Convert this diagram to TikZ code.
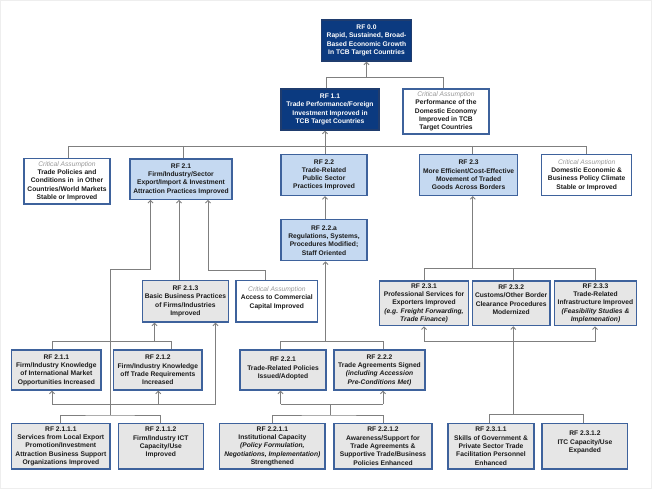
\documentclass[tikz,border=0pt]{standalone}
\usepackage{fontspec}
\setmainfont{Liberation Sans}
\usetikzlibrary{arrows.meta,calc}
\definecolor{navy}{HTML}{0B3A80}
\definecolor{navyb}{HTML}{1F3C6E}
\definecolor{lblue}{HTML}{C5D9F1}
\definecolor{bord}{HTML}{3E629C}
\definecolor{lgray}{HTML}{E6E6E6}
\definecolor{conc}{HTML}{7F7F7F}
\definecolor{txtc}{HTML}{1A1A1A}
\definecolor{cagray}{HTML}{999999}
\definecolor{framec}{HTML}{EEEEEE}
\newcommand\cacap{{\mdseries\itshape\color{cagray}Critical Assumption}}
% [text options], name, style, x1, y1, x2, y2, text, dy
\newcommand\bx[9][]{%
  \node[#3, minimum width={(#6-(#4))*1pt}, minimum height={(#7-(#5))*1pt}] (#2) at ({(#4+#6)/2},{(#5+#7)/2}) {};
  \node[txt,#1] (#2-t) at ($(#2.center)+(0,#9)$) {#8};
}
\begin{document}
\begin{tikzpicture}[x=1pt,y=-1pt,
  boxbase/.style={rectangle, draw=bord, line width=1.1pt, inner sep=0pt},
  navybox/.style={boxbase, fill=navy, draw=navyb},
  bluebox/.style={boxbase, fill=lblue},
  graybox/.style={boxbase, fill=lgray},
  cabox/.style={boxbase, fill=white},
  txt/.style={font=\fontsize{6.7}{8.3}\selectfont\bfseries, align=center, inner sep=0pt, text=txtc},
  wtxt/.style={text=white},
  conn/.style={draw=conc, line width=0.9pt},
  arr/.style={conn, -{Straight Barb[length=2.6pt,width=5pt]}}]
\useasboundingbox (0,0) rectangle (652,489);
\draw[framec, line width=0.6pt] (0.5,0.5) rectangle (651.5,488.5);

% ---------- boxes ----------
\bx[wtxt]{RF00}{navybox}{321.5}{20}{411.5}{61}{RF 0.0\\Rapid, Sustained, Broad-\\Based Economic Growth\\In TCB Target Countries}{0}
\bx[wtxt]{RF11}{navybox}{281}{89}{379}{130}{RF 1.1\\Trade Performance/Foreign\\Investment Improved in\\TCB Target Countries}{0}
\bx{CAperf}{cabox}{403}{89}{489}{134}{\cacap\\Performance of the\\Domestic Economy\\Improved in TCB\\Target Countries}{0}

\bx{CAtrade}{cabox}{24}{158.5}{110}{204}{\cacap\\Trade Policies and\\Conditions in\ \ in Other\\Countries/World Markets\\Stable or Improved}{0}
\bx{RF21}{bluebox}{130}{159}{232}{199.3}{RF 2.1\\Firm/Industry/Sector\\Export/Import \& Investment\\Attraction Practices Improved}{0}
\bx{RF22}{bluebox}{281}{154.3}{367}{195.5}{RF 2.2\\Trade-Related\\Public Sector\\Practices Improved}{0}
\bx{RF23}{bluebox}{419.5}{154.3}{517.7}{195.5}{RF 2.3\\More Efficient/Cost-Effective\\Movement of Traded\\Goods Across Borders}{0}
\bx{CAdom}{cabox}{541.8}{154.3}{631.6}{195.5}{\cacap\\Domestic Economic \&\\Business Policy Climate\\Stable or Improved}{0}

\bx{RF22a}{bluebox}{281}{219.7}{367}{260.8}{RF 2.2.a\\Regulations, Systems,\\Procedures Modified;\\Staff Oriented}{0}

\bx{RF213}{graybox}{142.3}{280.7}{228.5}{322}{RF 2.1.3\\Basic Business Practices\\of Firms/Industries\\Improved}{0}
\bx{CAacc}{cabox}{236}{280.7}{317.7}{322}{\cacap\\Access to Commercial\\Capital Improved}{-3.3}
\bx{RF231}{graybox}{379.3}{281}{468.7}{325.7}{RF 2.3.1\\Professional Services for\\Exporters Improved\\{\itshape(e.g. Freight Forwarding,}\\{\itshape Trade Finance)}}{0}
\bx{RF232}{graybox}{472.3}{281}{550}{325.7}{RF 2.3.2\\Customs/Other Border\\Clearance Procedures\\Modernized}{-3.7}
\bx{RF233}{graybox}{554.3}{281}{636.7}{325.7}{RF 2.3.3\\Trade-Related\\Infrastructure Improved\\{\itshape(Feasibility Studies \&}\\{\itshape Implemenation)}}{0}

\bx{RF211}{graybox}{11.7}{350}{101}{390}{RF 2.1.1\\Firm/Industry Knowledge\\of International Market\\Opportunities Increased}{0}
\bx{RF212}{graybox}{113.7}{350}{202}{390}{RF 2.1.2\\Firm/Industry Knowledge\\off Trade Requirements\\Increased}{0}
\bx{RF221}{graybox}{240}{350}{326}{390}{RF 2.2.1\\Trade-Related Policies\\Issued/Adopted}{-1.5}
\bx{RF222}{graybox}{334}{350}{425}{390}{RF 2.2.2\\Trade Agreements Signed\\{\itshape(including Accession}\\{\itshape Pre-Conditions Met)}}{0}

\bx{RF2111}{graybox}{11.7}{423.3}{110}{469}{RF 2.1.1.1\\Services from Local Export\\Promotion/Investment\\Attraction Business Support\\Organizations Improved}{0}
\bx{RF2112}{graybox}{118.3}{423.3}{203.3}{469}{RF 2.1.1.2\\Firm/Industry ICT\\Capacity/Use\\Improved}{-3.5}
\bx{RF2211}{graybox}{219.7}{423.3}{325}{469}{RF 2.2.1.1\\Institutional Capacity\\{\itshape(Policy Formulation,}\\{\itshape Negotiations, Implementation)}\\Strengthened}{0}
\bx{RF2212}{graybox}{334}{423.3}{432}{469}{RF 2.2.1.2\\Awareness/Support for\\Trade Agreements \&\\Supportive Trade/Business\\Policies Enhanced}{0}
\bx{RF2311}{graybox}{448}{423.3}{534}{469}{RF 2.3.1.1\\Skills of Government \&\\Private Sector Trade\\Facilitation Personnel\\Enhanced}{0}
\bx{RF2312}{graybox}{542}{423.3}{627.8}{469}{RF 2.3.1.2\\ITC Capacity/Use\\Expanded}{-3.5}

% ---------- connectors ----------
% to RF 0.0
\coordinate (j0) at (366.5,77.3);
\draw[arr] (j0) -- (RF00.south);
\draw[conn] (RF11.north -| 326,0) |- (443.3,77.3) -- (CAperf.north -| 443.3,0);
% level 2 bus
\draw[conn] (CAtrade.north -| 68.6,0) |- (586.7,146) -- (CAdom.north -| 586.7,0);
\draw[conn] (183,146) -- (RF21.north -| 183,0);
\draw[conn] (472.8,146) -- (RF23.north -| 472.8,0);
\draw[arr] (RF22.north -| 325,0) -- (RF11.south -| 325,0);
% RF 2.2.a -> RF 2.2
\draw[arr] (RF22a.north -| 325,0) -- (RF22.south -| 325,0);

% RF 2.1 inputs
\draw[arr] (CAacc.north -| 265,0) |- (208,270) -- (RF21.south -| 208,0);
\draw[arr] (RF213.north -| 179,0) -- (RF21.south -| 179,0);
\coordinate (j21) at (110,415);
\draw[arr] (j21) |- (150.5,269.5) -- (RF21.south -| 150.5,0);
\draw[conn] (RF2111.north) |- (j21) -| (RF2112.north);
% RF 2.1.x -> RF 2.1.3
\draw[conn] (RF211.north -| 52,0) |- (171,341.7) -- (RF212.north -| 171,0);
\draw[arr] (154.5,341.7) -- (RF213.south -| 154.5,0);
\draw[conn] (52,404) -- (215.5,404);
\draw[arr] (215.5,404) -- (RF213.south -| 215.5,0);
\draw[arr] (52,404) -- (RF211.south -| 52,0);
\draw[arr] (158.3,404) -- (RF212.south -| 158.3,0);

% RF 2.2.x -> RF 2.2.a
\draw[conn] (RF221.north -| 280.7,0) |- (383.3,341.7) -- (RF222.north -| 383.3,0);
\draw[arr] (325.5,341.7) -- (RF22a.south -| 325.5,0);
\draw[conn] (280.5,404) -- (383,404);
\draw[arr] (280.5,404) -- (RF221.south -| 280.5,0);
\draw[arr] (383,404) -- (RF222.south -| 383,0);
\coordinate (j22) at (330,415);
\draw[conn] (330,404) -- (j22);
\draw[conn] (RF2211.north) |- (j22) -| (RF2212.north);

% RF 2.3.x -> RF 2.3
\draw[arr] (472.8,268.7) -- (RF23.south -| 472.8,0);
\draw[conn] (RF231.north -| 424,0) |- (595,268.7) -- (RF233.north -| 595,0);
\draw[conn] (513.3,268.7) -- (RF232.north -| 513.3,0);
\draw[conn] (424,341.7) -- (595,341.7);
\draw[arr] (424,341.7) -- (RF231.south -| 424,0);
\draw[arr] (595,341.7) -- (RF233.south -| 595,0);
\draw[arr] (513.3,414) -- (RF232.south -| 513.3,0);
\draw[conn] (RF2311.north -| 489,0) |- (583.3,414) -- (RF2312.north -| 583.3,0);
\end{tikzpicture}
\end{document}
